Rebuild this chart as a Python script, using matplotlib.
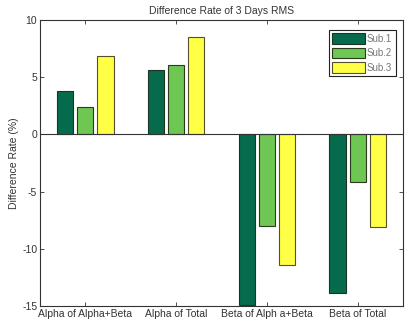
import numpy as np
import matplotlib
matplotlib.use('Agg')
import matplotlib.pyplot as plt

plt.rcParams['font.family'] = ['Liberation Sans', 'DejaVu Sans']
plt.rcParams['axes.unicode_minus'] = False

categories = ['Alpha of Alpha+Beta', 'Alpha of Total', 'Beta of Alph a+Beta', 'Beta of Total']
series_names = ['Sub.1', 'Sub.2', 'Sub.3']
sub1 = [3.8, 5.6, -14.9, -13.9]
sub2 = [2.4, 6.05, -8.0, -4.2]
sub3 = [6.85, 8.5, -11.4, -8.1]

colors = ['#066b4d', '#6ec653', '#ffff45']
edges = ['#1e3320', '#2a3a1a', '#55502a']

fig = plt.figure(figsize=(4.14, 3.30), dpi=100)
ax = fig.add_axes([0.0966, 0.0727, 0.8768, 0.8667])

x = np.arange(1, len(categories) + 1)
pitch = 0.222
width = 0.178
for i, (vals, name) in enumerate(zip([sub1, sub2, sub3], series_names)):
    ax.bar(x + (i - 1) * pitch, vals, width=width, color=colors[i],
           edgecolor=edges[i], linewidth=0.8, label=name)

ax.axhline(0, color='#333333', linewidth=0.8)
ax.set_xlim(0.5, 4.5)
ax.set_ylim(-15, 10)
ax.set_xticks(x)
ax.set_xticklabels(categories)
ax.set_yticks([-15, -10, -5, 0, 5, 10])
ax.tick_params(direction='in', length=3, labelsize=7.5, colors='#333333',
               top=True, right=True, width=0.6, pad=2)
for s in ax.spines.values():
    s.set_color('#333333')
    s.set_linewidth(0.8)

ax.set_ylabel('Difference Rate (%)', fontsize=7.5, color='#333333', labelpad=2)
ax.set_title('Difference Rate of 3 Days RMS', fontsize=7.5, color='#333333', pad=4)

leg = ax.legend(loc='upper right', fontsize=7, handlelength=3.3, handleheight=1.3,
                borderpad=0.35, labelspacing=0.4, handletextpad=0.25,
                fancybox=False, framealpha=1, bbox_to_anchor=(0.993, 0.983))
leg.get_frame().set_edgecolor('#222222')
leg.get_frame().set_linewidth(0.8)
for t in leg.get_texts():
    t.set_color('#777777')

fig.savefig('out.png', dpi=100)
